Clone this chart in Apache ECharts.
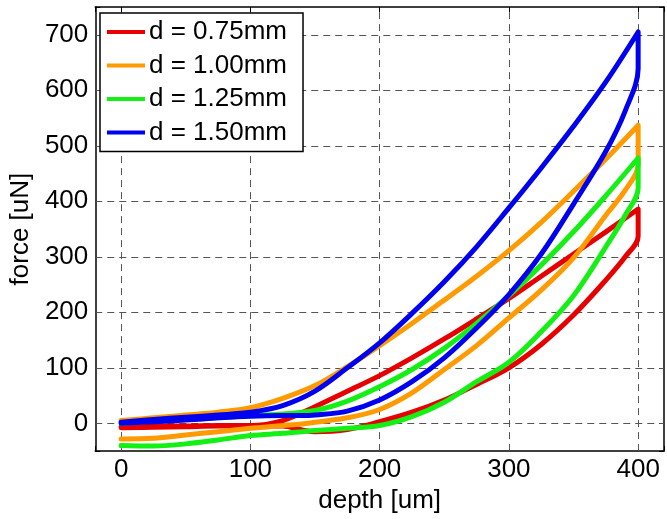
<!DOCTYPE html>
<html>
<head>
<meta charset="utf-8">
<script src="https://cdn.jsdelivr.net/npm/echarts@6/dist/echarts.min.js"></script>
<style>
  html, body { margin: 0; padding: 0; background: #fff; }
  #chart { width: 667px; height: 519px; }
</style>
</head>
<body>
<div id="chart"></div>
<script>
// Indentation loops: loading from 0 to 400 um, hold at 400 um, then unloading back to 0.
const depthLoad   = [0, 25, 50, 75, 100, 125, 150, 175, 200, 225, 250, 275, 300, 325, 350, 375, 400];
const depthUnload = [400, 390, 375, 350, 325, 300, 275, 250, 225, 200, 175, 150, 140, 125, 100, 75, 50, 25, 0];

const names = ['d = 0.75mm', 'd = 1.00mm', 'd = 1.25mm', 'd = 1.50mm'];
const colors = ['#e60000', '#ff9a00', '#14f014', '#0000f0'];

// force [uN] along the loading branch (at depthLoad)
const load075 = [-6, -5, -5, -4, -4, 5, 30, 58, 86, 118, 152, 188, 225, 265, 305, 345, 386];
const load100 = [5, 10, 15, 20, 28, 45, 68, 102, 140, 180, 222, 265, 311, 362, 418, 476, 537];
const load125 = [0, 4, 7, 10, 14, 17, 23, 40, 66, 97, 135, 180, 230, 285, 345, 410, 478];
const load150 = [2, 7, 11, 15, 20, 32, 58, 100, 145, 198, 255, 318, 388, 460, 535, 615, 705];

// force [uN] along the unloading branch (at depthUnload)
const unload075 = [337, 300, 258, 195, 142, 100, 70, 42, 20, 3, -11, -15, -12, -5, -5, -5, -6, -7, -8];
const unload100 = [466, 420, 375, 298, 240, 190, 140, 97, 55, 25, 10, 2, -1, -4, -9, -15, -21, -27, -28];
const unload125 = [424, 375, 318, 230, 165, 110, 75, 38, 12, -4, -9, -13, -15, -18, -22, -30, -37, -41, -40];
const unload150 = [639, 563, 490, 395, 305, 232, 172, 118, 75, 42, 22, 15, 14, 14, 13, 10, 6, 3, 0];

const loads = [load075, load100, load125, load150];
const unloads = [unload075, unload100, unload125, unload150];

const xTicks = [0, 100, 200, 300, 400];
const yTicks = [0, 100, 200, 300, 400, 500, 600, 700];

function loop(load, unload) {
  const pts = depthLoad.map((x, i) => [x, load[i]]);
  return pts.concat(depthUnload.map((x, i) => [x, unload[i]]));
}

const font = 'Liberation Sans, Arial, Helvetica, sans-serif';
const gridDash = { color: '#555', width: 1, type: [7, 5] };

const chart = echarts.init(document.getElementById('chart'), null, { renderer: 'canvas' });

const series = names.map((n, k) => ({
  name: n,
  type: 'line',
  data: loop(loads[k], unloads[k]),
  showSymbol: false,
  symbol: 'none',
  smooth: 0.35,
  z: 3 + k,
  lineStyle: { color: colors[k], width: 5, cap: 'round', join: 'round' },
  itemStyle: { color: colors[k] }
}));

// dashed grid drawn beneath the curves
series.push({
  type: 'line',
  data: [],
  silent: true,
  z: 1,
  markLine: {
    silent: true,
    z: 1,
    symbol: 'none',
    label: { show: false },
    lineStyle: gridDash,
    data: xTicks.map(v => ({ xAxis: v })).concat(yTicks.map(v => ({ yAxis: v })))
  }
});

const tickFmt = ticks => v => (ticks.indexOf(v) >= 0 ? String(v) : '');

chart.setOption({
  animation: false,
  backgroundColor: '#fff',
  grid: { left: 94, top: 7, width: 572, height: 449, show: false },
  legend: {
    left: 100,
    top: 13,
    orient: 'vertical',
    icon: 'rect',
    itemWidth: 38,
    itemHeight: 4,
    itemGap: 3.5,
    padding: [4, 16, 4, 7],
    backgroundColor: '#fff',
    borderColor: '#000',
    borderWidth: 1.5,
    borderRadius: 0,
    textStyle: { fontFamily: font, fontSize: 26, color: '#000', lineHeight: 30, padding: [0, 0, 0, -1] },
    data: names
  },
  xAxis: [
    {
      type: 'value', min: -20, max: 420, splitNumber: 4, minInterval: 100, maxInterval: 100,
      position: 'bottom',
      name: 'depth [um]', nameLocation: 'middle', nameGap: 31,
      nameTextStyle: { fontFamily: font, fontSize: 26, color: '#000' },
      axisLine: { show: true, onZero: false, lineStyle: { color: '#000', width: 1.5 } },
      axisTick: { show: true, inside: true, length: 5, lineStyle: { color: '#000' } },
      axisLabel: { fontFamily: font, fontSize: 26, color: '#000', margin: 6, formatter: tickFmt(xTicks) },
      splitLine: { show: false }
    },
    {
      type: 'value', min: -20, max: 420, splitNumber: 4, minInterval: 100, maxInterval: 100,
      position: 'top',
      axisLine: { show: true, onZero: false, lineStyle: { color: '#000', width: 1.5 } },
      axisTick: { show: true, inside: true, length: 5, lineStyle: { color: '#000' } },
      axisLabel: { show: false },
      splitLine: { show: false }
    }
  ],
  yAxis: [
    {
      type: 'value', min: -50, max: 750, splitNumber: 8, minInterval: 100, maxInterval: 100,
      position: 'left',
      name: 'force [uN]', nameLocation: 'middle', nameGap: 56, nameRotate: 90,
      nameTextStyle: { fontFamily: font, fontSize: 26, color: '#000' },
      axisLine: { show: true, onZero: false, lineStyle: { color: '#000', width: 1.5 } },
      axisTick: { show: true, inside: true, length: 5, lineStyle: { color: '#000' } },
      axisLabel: { fontFamily: font, fontSize: 26, color: '#000', margin: 7, formatter: tickFmt(yTicks) },
      splitLine: { show: false }
    },
    {
      type: 'value', min: -50, max: 750, splitNumber: 8, minInterval: 100, maxInterval: 100,
      position: 'right',
      axisLine: { show: true, onZero: false, lineStyle: { color: '#000', width: 1.5 } },
      axisTick: { show: true, inside: true, length: 5, lineStyle: { color: '#000' } },
      axisLabel: { show: false },
      splitLine: { show: false }
    }
  ],
  series: series
});
</script>
</body>
</html>
